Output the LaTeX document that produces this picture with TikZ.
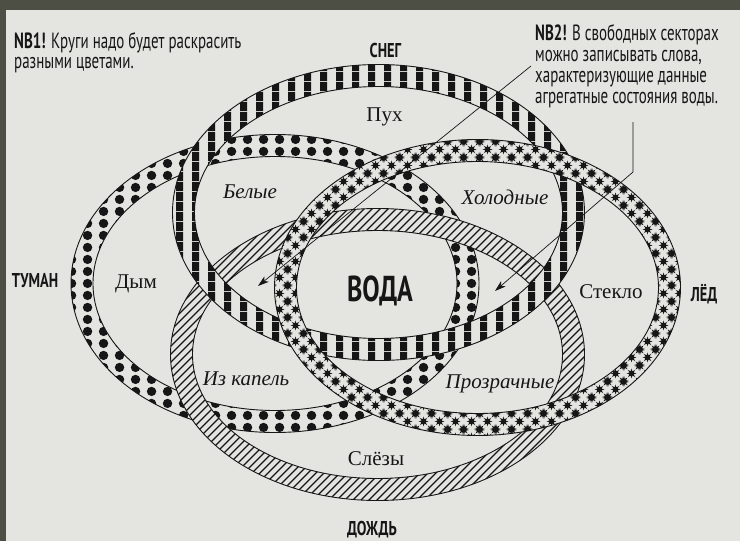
\documentclass[tikz,border=0pt]{standalone}
\usepackage{fontspec}
\setmainfont{Liberation Serif}
\newfontfamily\condf[FakeStretch=0.68]{PT Sans}
\newfontfamily\condb[FakeStretch=0.72]{PT Sans}
\usetikzlibrary{patterns,arrows.meta}

\definecolor{bgdark}{RGB}{78,79,68}
\definecolor{paper}{RGB}{228,228,225}
\definecolor{ink}{RGB}{22,22,22}

\pgfdeclarepatternformonly{vstripes}{\pgfqpoint{0pt}{0pt}}{\pgfqpoint{16pt}{10pt}}{\pgfqpoint{16pt}{10pt}}{%
  \pgfpathrectangle{\pgfqpoint{0pt}{0pt}}{\pgfqpoint{7.5pt}{10pt}}\pgfusepath{fill}}
\pgfdeclarepatternformonly{hatchne}{\pgfqpoint{-1pt}{-1pt}}{\pgfqpoint{9pt}{9pt}}{\pgfqpoint{8pt}{8pt}}{%
  \pgfsetlinewidth{1.2pt}%
  \pgfpathmoveto{\pgfqpoint{0pt}{0pt}}\pgfpathlineto{\pgfqpoint{8.1pt}{8.1pt}}\pgfusepath{stroke}}
\pgfdeclarepatternformonly{bigdots}{\pgfqpoint{0pt}{0pt}}{\pgfqpoint{16pt}{12pt}}{\pgfqpoint{16pt}{12pt}}{%
  \pgfpathcircle{\pgfqpoint{8pt}{6pt}}{5pt}\pgfusepath{fill}}

\newcommand\SPt[2]{\pgfpointadd{\pgfqpoint{\myStarX}{\myStarY}}{\pgfqpoint{#1pt}{#2pt}}}
\newcommand\myStarShape[2]{%
  \def\myStarX{#1}\def\myStarY{#2}%
  \pgfpathmoveto{\SPt{5.2}{0}}%
  \pgfpathlineto{\SPt{2.22}{0.92}}\pgfpathlineto{\SPt{3.68}{3.68}}%
  \pgfpathlineto{\SPt{0.92}{2.22}}\pgfpathlineto{\SPt{0}{5.2}}%
  \pgfpathlineto{\SPt{-0.92}{2.22}}\pgfpathlineto{\SPt{-3.68}{3.68}}%
  \pgfpathlineto{\SPt{-2.22}{0.92}}\pgfpathlineto{\SPt{-5.2}{0}}%
  \pgfpathlineto{\SPt{-2.22}{-0.92}}\pgfpathlineto{\SPt{-3.68}{-3.68}}%
  \pgfpathlineto{\SPt{-0.92}{-2.22}}\pgfpathlineto{\SPt{0}{-5.2}}%
  \pgfpathlineto{\SPt{0.92}{-2.22}}\pgfpathlineto{\SPt{3.68}{-3.68}}%
  \pgfpathlineto{\SPt{2.22}{-0.92}}\pgfpathclose}
\pgfdeclarepatternformonly{iceStars}{\pgfqpoint{0pt}{0pt}}{\pgfqpoint{16pt}{16pt}}{\pgfqpoint{16pt}{16pt}}{%
  \myStarShape{0pt}{0pt}\myStarShape{16pt}{0pt}\myStarShape{0pt}{16pt}\myStarShape{16pt}{16pt}%
  \myStarShape{8pt}{8pt}\pgfusepath{fill}}

\newcommand\drawring[5]{%
  \fill[paper, even odd rule] (#1,#2) ellipse [x radius=#3pt, y radius=#4pt]
        (#1,#2) ellipse [x radius=#3pt-22pt, y radius=#4pt-22pt];
  \fill[pattern=#5, pattern color=ink, even odd rule] (#1,#2) ellipse [x radius=#3pt, y radius=#4pt]
        (#1,#2) ellipse [x radius=#3pt-22pt, y radius=#4pt-22pt];
  \draw[ringline] (#1,#2) ellipse [x radius=#3pt, y radius=#4pt];
  \draw[ringline] (#1,#2) ellipse [x radius=#3pt-22pt, y radius=#4pt-22pt];}

\tikzset{
  ringline/.style={ink, line width=0.9pt},
  note/.style={font=\condf\fontsize{22}{24}\selectfont, text=ink, inner sep=0pt, anchor=base west},
  statelabel/.style={font=\condb\bfseries\fontsize{20}{22}\selectfont, text=ink, inner sep=0pt, anchor=base},
  wordup/.style={font=\fontsize{21}{23}\selectfont, text=ink, inner sep=0pt, anchor=base},
  wordit/.style={font=\itshape\fontsize{21}{23}\selectfont, text=ink, inner sep=0pt, anchor=base},
  pointer/.style={ink, line width=0.7pt, -{Stealth[length=11pt, width=7pt, inset=3pt]}}
}

\begin{document}
\begin{tikzpicture}[x=1pt, y=-1pt]
\useasboundingbox (0,0) rectangle (740,541);
\fill[bgdark] (0,0) rectangle (740,541);
\fill[paper] (6,10) rectangle (740,541);

% rings, bottom to top: fog, rain, snow, ice
\drawring{275}{283.5}{204}{149}{bigdots}
\drawring{377.5}{354.5}{207}{146}{hatchne}
\drawring{378.5}{212.5}{206}{148}{vstripes}
\drawring{477.5}{287.5}{203}{148}{iceStars}

% notes
\node[note] (nb1a) at (14,48) {\textbf{NB1!} Круги надо будет раскрасить};
\node[note] (nb1b) at (14,68) {разными цветами.};
\node[note] (nb2a) at (535,40) {\textbf{NB2!} В свободных секторах};
\node[note] (nb2b) at (535,61) {можно записывать слова,};
\node[note] (nb2c) at (535,82) {характеризующие данные};
\node[note] (nb2d) at (535,103) {агрегатные состояния воды.};

% state labels
\node[statelabel] (sneg) at (385.5,57) {СНЕГ};
\node[statelabel] (tuman) at (35,287) {ТУМАН};
\node[statelabel] (led) at (704,301) {ЛЁД};
\node[statelabel] (dozhd) at (372,535) {ДОЖДЬ};
\node[font=\condb\bfseries\fontsize{36}{38}\selectfont, text=ink, inner sep=0pt, anchor=base] (voda) at (380,301) {ВОДА};

% words
\node[wordup] (pukh) at (384.5,121) {Пух};
\node[wordit] (belye) at (250,198) {Белые};
\node[wordit] (kholod) at (505,204) {Холодные};
\node[wordup] (dym) at (136,288) {Дым};
\node[wordup] (steklo) at (611,298) {Стекло};
\node[wordit] (izkap) at (246,385) {Из капель};
\node[wordit] (prozr) at (500,388) {Прозрачные};
\node[wordup] (slezy) at (376,465) {Слёзы};

% pointers
\coordinate (p1s) at (531,66);
\coordinate (p1e) at (258,286);
\coordinate (p2s) at (633,122);
\coordinate (p2k) at (633,172);
\coordinate (p2e) at (495,291);
\draw[pointer] (p1s) -- (p1e);
\draw[pointer] (p2s) -- (p2k) -- (p2e);
\end{tikzpicture}
\end{document}
